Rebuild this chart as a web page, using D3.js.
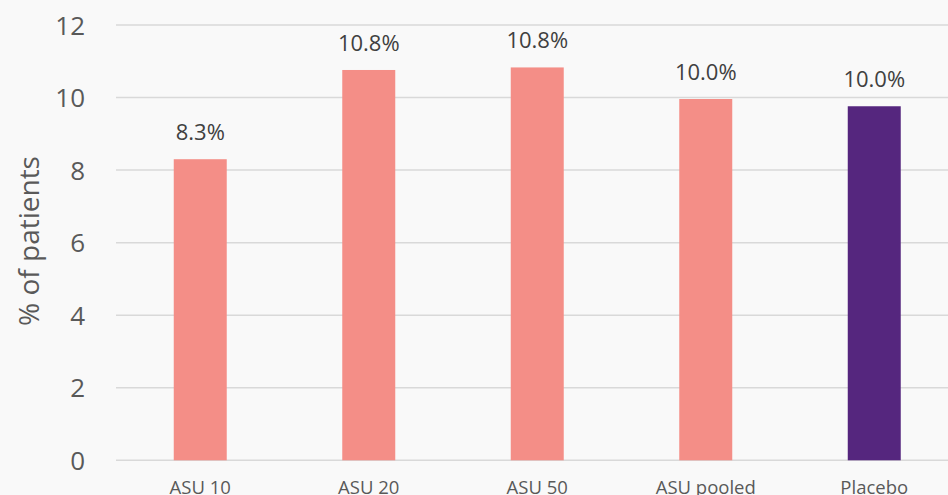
<!DOCTYPE html>
<html><head><meta charset="utf-8">
<script src="https://cdn.jsdelivr.net/npm/d3@7"></script>
<style>html,body{margin:0;padding:0;background:#f9f9f9;}svg{display:block;}</style>
</head><body>
<script>
const categories = ["ASU 10", "ASU 20", "ASU 50", "ASU pooled", "Placebo"];
const values = [8.3, 10.76, 10.83, 9.96, 9.76];
const labels = ["8.3%", "10.8%", "10.8%", "10.0%", "10.0%"];
const colors = ["#f48e87", "#f48e87", "#f48e87", "#f48e87", "#55267e"];
const yTicks = [0, 2, 4, 6, 8, 10, 12];

const W = 948, H = 495;
const svg = d3.select("body").append("svg").attr("width", W).attr("height", H)
  .style("background", "#f9f9f9");
const font = "'Open Sans', sans-serif";
const txt = "#595959";

const y = d3.scaleLinear().domain([0, 12]).range([460.3, 25]);
const x = d3.scaleBand().domain(categories).range([116, 958.5])
  .paddingInner(0.6855).paddingOuter(0.34275);

// gridlines
svg.append("g").selectAll("line").data(yTicks).join("line")
  .attr("x1", 116).attr("x2", W)
  .attr("y1", d => y(d)).attr("y2", d => y(d))
  .attr("stroke", "#d9d9d9").attr("stroke-width", 1.5);

// y tick labels
svg.append("g").selectAll("text").data(yTicks).join("text")
  .attr("x", 85).attr("y", d => y(d) + 9.5)
  .attr("text-anchor", "end")
  .attr("font-family", font).attr("font-size", 26).attr("fill", txt)
  .text(d => d);

// bars
svg.append("g").selectAll("rect").data(categories).join("rect")
  .attr("x", d => x(d)).attr("width", x.bandwidth())
  .attr("y", (d, i) => y(values[i]))
  .attr("height", (d, i) => y(0) - y(values[i]))
  .attr("fill", (d, i) => colors[i]);

// value labels
svg.append("g").selectAll("text").data(categories).join("text")
  .attr("x", d => x(d) + x.bandwidth() / 2)
  .attr("y", (d, i) => y(values[i]) - 19)
  .attr("text-anchor", "middle")
  .attr("font-family", font).attr("font-size", 22).attr("fill", "#404040")
  .text((d, i) => labels[i]);

// x labels
svg.append("g").selectAll("text").data(categories).join("text")
  .attr("x", d => x(d) + x.bandwidth() / 2)
  .attr("y", 494)
  .attr("text-anchor", "middle")
  .attr("font-family", font).attr("font-size", 18.5).attr("fill", txt)
  .text(d => d);

// y axis title
svg.append("text")
  .attr("transform", "translate(39,241) rotate(-90)")
  .attr("text-anchor", "middle")
  .attr("font-family", font).attr("font-size", 28).attr("fill", txt)
  .text("% of patients");
</script>
</body></html>
